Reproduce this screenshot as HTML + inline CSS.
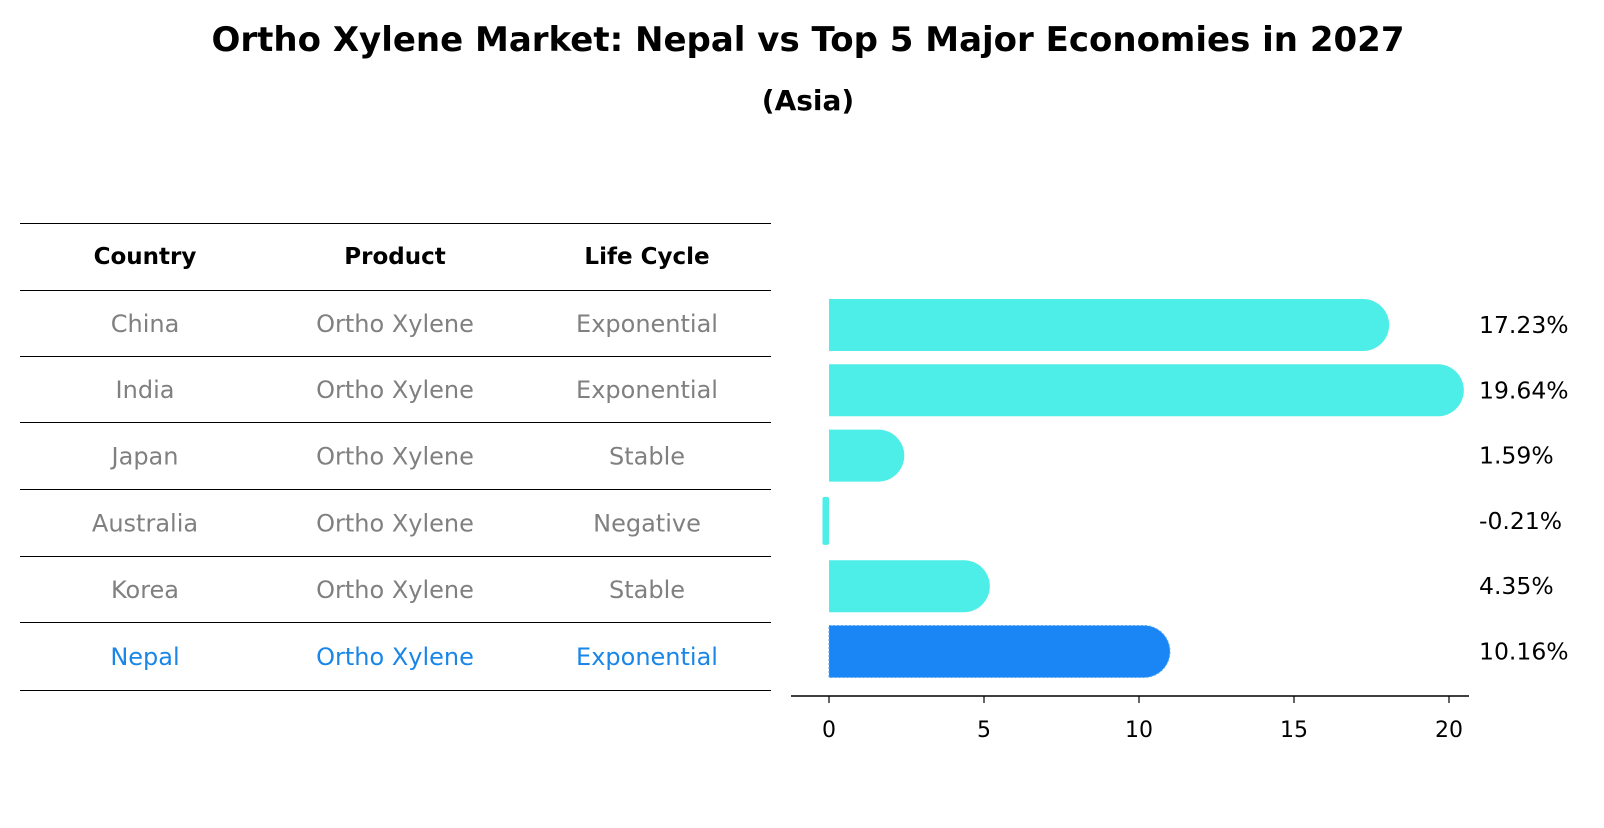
<!DOCTYPE html>
<html><head><meta charset="utf-8">
<style>
body{margin:0;background:#fff;font-family:"Liberation Sans","DejaVu Sans",sans-serif;}
svg text{font-family:"DejaVu Sans","Liberation Sans",sans-serif;}
</style></head>
<body>
<svg width="1604" height="823" viewBox="0 0 1604 823" xmlns="http://www.w3.org/2000/svg">
<text x="808" y="51" text-anchor="middle" font-size="34" font-weight="bold">Ortho Xylene Market: Nepal vs Top 5 Major Economies in 2027</text>
<text x="808" y="110" text-anchor="middle" font-size="28" font-weight="bold">(Asia)</text>
<g id="table"></g>
<g id="bars"></g>
</svg>
<script>
const countries=["China","India","Japan","Australia","Korea","Nepal"];
const products=["Ortho Xylene","Ortho Xylene","Ortho Xylene","Ortho Xylene","Ortho Xylene","Ortho Xylene"];
const lifeCycles=["Exponential","Exponential","Stable","Negative","Stable","Exponential"];
const growth=[17.23,19.64,1.59,-0.21,4.35,10.16];
const ticks=[0,5,10,15,20];
const NS="http://www.w3.org/2000/svg";
function mk(tag,attrs,parent){const e=document.createElementNS(NS,tag);for(const k in attrs)e.setAttribute(k,attrs[k]);parent.appendChild(e);return e;}
const tbl=document.getElementById('table');
const lineYs=[223,290,356,422,489,556,622,690];
const colX=[145,395,647];
lineYs.forEach((y,i)=>{const l=mk('line',{x1:20,x2:771,y1:y+0.5,y2:y+0.5,stroke:'#000','stroke-width':1,'shape-rendering':'crispEdges'},tbl);

});
const heads=["Country","Product","Life Cycle"];
heads.forEach((h,i)=>{const t=mk('text',{x:colX[i],y:264,'text-anchor':'middle','font-size':23,'font-weight':'bold'},tbl);t.textContent=h;

});
countries.forEach((c,r)=>{const y=(lineYs[r+1]+lineYs[r+2])/2+9;const col=c==="Nepal"?"#1a86e8":"#808080";
[c,products[r],lifeCycles[r]].forEach((v,i)=>{const t=mk('text',{x:colX[i],y:y,'text-anchor':'middle','font-size':24,fill:col},tbl);t.textContent=v;

});});
const g=document.getElementById('bars');
const x0=829,ppu=31;const X=v=>x0+v*ppu;
const yC=i=>325+i*65.3;const bh=52,r=26;
growth.forEach((v,i)=>{const c=countries[i]==="Nepal"?"#1a86f5":"#4deee8";let p;
if(v>=0){const x1=X(v);p=mk('path',{d:`M${x0},${yC(i)-bh/2} H${x1} A${r},${r} 0 0 1 ${x1},${yC(i)+bh/2} H${x0} Z`,fill:c},g);}
else{p=mk('rect',{x:X(v),y:yC(i)-bh/2+2,width:x0-X(v),height:bh-4,rx:2,fill:c},g);}
if(countries[i]==="Nepal"){p.setAttribute('stroke','#5aa8f0');p.setAttribute('stroke-dasharray','2,2');}


const t=mk('text',{x:1479,y:yC(i)+8,'font-size':23.5},g);t.textContent=v.toFixed(2)+'%';

});
const ax=mk('line',{x1:791,x2:1469,y1:696,y2:696,stroke:'#000','stroke-width':1.5},g);


ticks.forEach(v=>{const tl=mk('line',{x1:X(v),x2:X(v),y1:696,y2:703,stroke:'#000','stroke-width':1.2},g);


const t=mk('text',{x:X(v),y:737,'text-anchor':'middle','font-size':22},g);t.textContent=v;

});
</script>
</body></html>
